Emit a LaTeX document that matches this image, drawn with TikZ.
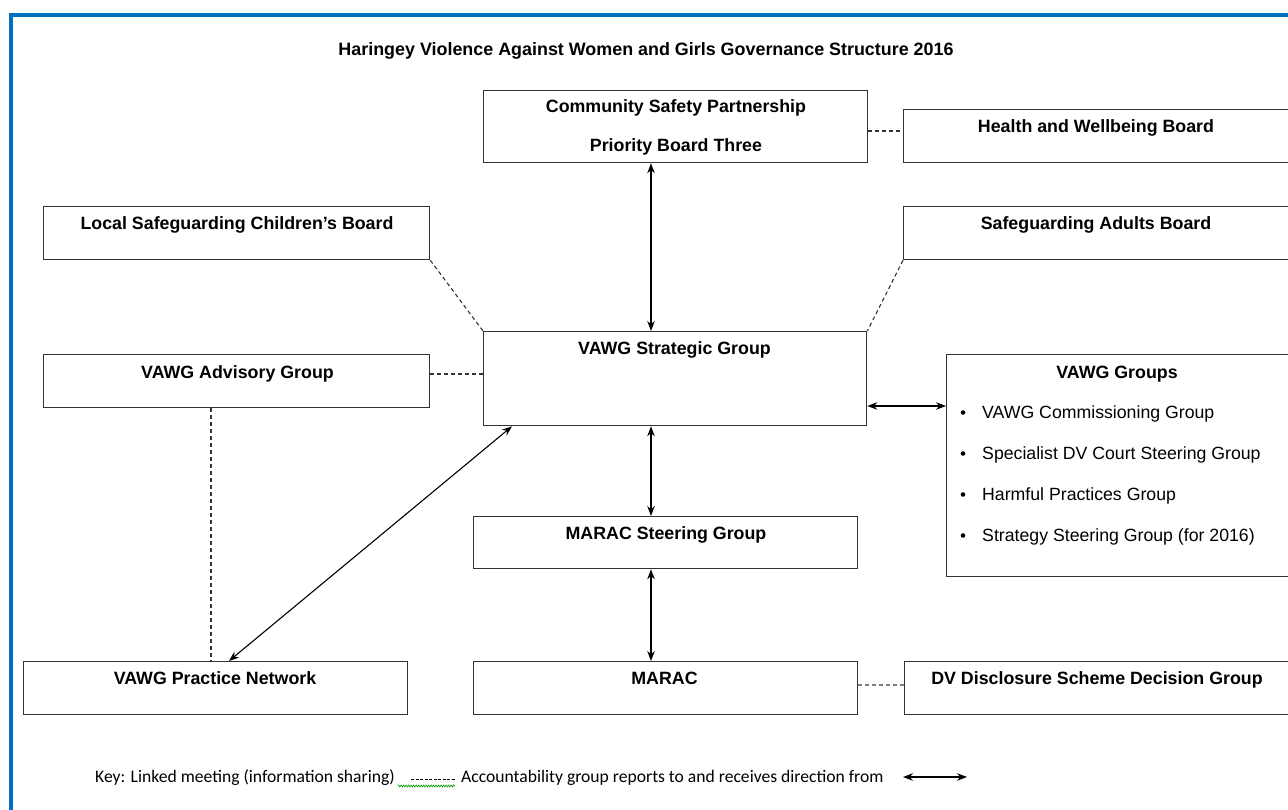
\documentclass[tikz,border=0pt]{standalone}
\usepackage{fontspec}
\setmainfont{Liberation Sans}
\newfontfamily\keyfont{Carlito}
\usetikzlibrary{arrows.meta,decorations.pathmorphing}
\definecolor{frameblue}{HTML}{0070C0}
\definecolor{boxline}{HTML}{333333}
\tikzset{
  x=1pt,y=-1pt,
  box/.style={draw=boxline,line width=1.3pt,rectangle,inner sep=0pt,fill=white},
  boxtext/.style={font=\bfseries\fontsize{17.8}{20}\selectfont,inner sep=0pt,anchor=base},
  itemtext/.style={font=\fontsize{17.7}{20}\selectfont,inner sep=0pt,anchor=base west},
  link/.style={draw=boxline,line width=1.1pt,dash pattern=on 4pt off 3pt},
  acc/.style={draw=black,line width=1.1pt,{Stealth[length=10pt,width=7.5pt]}-{Stealth[length=10pt,width=7.5pt]}},
  keytext/.style={font=\keyfont\fontsize{17.6}{20}\selectfont,inner sep=0pt,anchor=base west},
}
\newcommand{\mybox}[5]{% name, x1,y1,x2,y2
  \node[box,minimum width=#4-#2,minimum height=#5-#3,anchor=north west] (#1) at (#2,#3) {};
}
\begin{document}
\begin{tikzpicture}
\useasboundingbox (0,0) rectangle (1288,810);
% frame
\draw[frameblue,line width=4pt] (11,830) -- (11,15) -- (1310,15);
% title
\node[font=\bfseries\fontsize{17.9}{20}\selectfont,inner sep=0pt,anchor=base] (title) at (646,55.5) {Haringey Violence Against Women and Girls Governance Structure 2016};
% boxes
\mybox{csp}{483}{90}{867}{162}
\node[boxtext] (csp-t1) at (676,112.5) {Community Safety Partnership};
\node[boxtext] (csp-t2) at (676,151.5) {Priority Board Three};
\mybox{hwb}{903}{109}{1300}{162}
\node[boxtext] (hwb-t) at (1096,132.5) {Health and Wellbeing Board};
\mybox{lscb}{43}{206}{429}{259}
\node[boxtext] (lscb-t) at (237,229.5) {Local Safeguarding Children’s Board};
\mybox{sab}{903}{206}{1300}{259}
\node[boxtext] (sab-t) at (1096,229.5) {Safeguarding Adults Board};
\mybox{strat}{483}{331}{866}{425}
\node[boxtext] (strat-t) at (674.5,354.5) {VAWG Strategic Group};
\mybox{adv}{43}{354}{429}{407}
\node[boxtext] (adv-t) at (237.5,378.5) {VAWG Advisory Group};
\mybox{grp}{946}{354}{1300}{576}
\node[boxtext] (grp-t) at (1117,378.5) {VAWG Groups};
\foreach \yy/\txt/\nm in {418.5/VAWG Commissioning Group/g1,459.5/Specialist DV Court Steering Group/g2,500.5/Harmful Practices Group/g3,541.5/Strategy Steering Group (for 2016)/g4}{
  \fill (963,\yy-6) circle (2.3pt);
  \node[itemtext] (\nm) at (982,\yy) {\txt};
}
\mybox{ms}{473}{516}{857}{568}
\node[boxtext] (ms-t) at (666,539.5) {MARAC Steering Group};
\mybox{pn}{23}{661}{407}{714}
\node[boxtext] (pn-t) at (215,684.5) {VAWG Practice Network};
\mybox{marac}{473}{661}{857}{714}
\node[boxtext] (marac-t) at (664.5,684.5) {MARAC};
\mybox{dv}{904}{661}{1300}{714}
\node[boxtext] (dv-t) at (1097,684.5) {DV Disclosure Scheme Decision Group};
% connectors
\draw[acc] (csp.south -| 651,0) -- (strat.north -| 651,0);
\draw[link] (csp.east |- 0,131) -- (hwb.west |- 0,131);
\draw[link] (lscb.south east) -- (strat.north west);
\draw[link] (sab.south west) -- (strat.north east);
\draw[link] (adv.east |- 0,374) -- (strat.west |- 0,374);
\draw[acc] (strat.east |- 0,406) -- (grp.west |- 0,406);
\draw[acc] (strat.south -| 651,0) -- (ms.north -| 651,0);
\draw[acc] (ms.south -| 651,0) -- (marac.north -| 651,0);
\draw[link] (adv.south -| 211,0) -- (pn.north -| 211,0);
\draw[acc] (strat.south -| 512,0) -- (pn.north -| 229,0);
\draw[link,draw=gray] (marac.east |- 0,685) -- (dv.west |- 0,685);
% key
\node[keytext] (key1) at (95,782.5) {Key: Linked meeting (information sharing)};
\node[keytext] (key2) at (461,782.5) {Accountability group reports to and receives direction from};
\coordinate (kd1) at (411,779);
\coordinate (kd2) at (455,779);
\draw[black,line width=0.8pt,dash pattern=on 3pt off 1.5pt] (kd1) -- (kd2);
\draw[green!60!black,line width=0.6pt,decorate,decoration={zigzag,amplitude=1pt,segment length=2.5pt}] (398,786) -- (455,786);
\coordinate (ka1) at (903,777);
\coordinate (ka2) at (967,777);
\draw[acc] (ka1) -- (ka2);
\end{tikzpicture}
\end{document}
